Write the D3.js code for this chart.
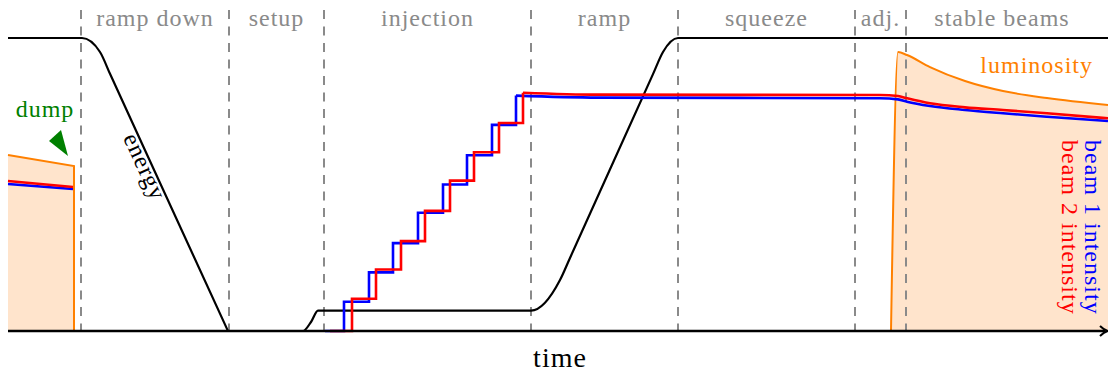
<!DOCTYPE html>
<html>
<head>
<meta charset="utf-8">
<script src="https://cdn.jsdelivr.net/npm/d3@7"></script>
<style>
  html, body { margin: 0; padding: 0; background: #fff; }
  svg { display: block; }
</style>
</head>
<body>
<svg id="chart" width="1108" height="372"></svg>
<script>
// Operating phases of one fill cycle (time in arbitrary units)
const phaseNames  = ["ramp down", "setup", "injection", "ramp", "squeeze", "adj.", "stable beams"];
const phaseStarts = [7.3, 22.1, 31.6, 52.3, 67.0, 84.7, 89.8];
const phaseEnds   = [22.1, 31.6, 52.3, 67.0, 84.7, 89.8, 109.0];

// Beam energy (TeV)
const energyTime = [0, 7.4, 9.2, 10.2, 21.9, 22.0, 29.5, 30.3, 31.0, 52.3, 55.2, 56.2, 64.5, 65.5, 67.0, 110];
const energyTeV  = [6.5, 6.5, 6.19, 5.706, 0.048, 0, 0, 0.2, 0.45, 0.45, 1.13, 1.621, 5.699, 6.19, 6.5, 6.5];

// Previous fill, until it is dumped
const prevTime     = [0, 6.5];
const prevBeam1    = [1.505, 1.454];
const prevBeam2    = [1.536, 1.474];
const prevLumiTime = [0, 6.6];
const prevLumi     = [1.321, 1.239];

// Injection: intensity after each injected train (1e14 protons)
const inj1Time = [31.7, 33.6, 36.1, 38.5, 41.0, 43.5, 45.9, 48.4, 50.8];
const inj1     = [0, 0.30, 0.60, 0.90, 1.21, 1.50, 1.80, 2.11, 2.41];
const inj2Time = [32.2, 34.4, 36.8, 39.3, 41.7, 44.2, 46.6, 49.1, 51.5];
const inj2     = [0, 0.33, 0.63, 0.92, 1.23, 1.54, 1.83, 2.13, 2.44];

// Circulating intensity from end of injection through stable beams
const circTime  = [59.0, 87.2, 89.0, 89.9, 92.2, 95.7, 99.5, 103.9, 110];
const circBeam1 = [2.39, 2.383, 2.372, 2.348, 2.304, 2.263, 2.229, 2.194, 2.150];
const circBeam2 = [2.42, 2.416, 2.406, 2.383, 2.331, 2.290, 2.263, 2.229, 2.178];

// Luminosity in stable beams (1e34 cm^-2 s^-1)
const lumiTime = [88.3, 89.0, 89.9, 92.2, 95.7, 99.5, 103.9, 110];
const lumi     = [0, 2.095, 2.072, 1.982, 1.877, 1.802, 1.749, 1.697];

const FONT = "'Liberation Serif', 'DejaVu Serif', serif";
const baseY = 331, topY = 38;

const svg = d3.select("#chart");

const x  = d3.scaleLinear().domain([0, 110]).range([8, 1108]);
const yE = d3.scaleLinear().domain([0, 6.5]).range([baseY, topY]);
const yI = d3.scaleLinear().domain([0, 3]).range([baseY, topY]);
const yL = d3.scaleLinear().domain([0, 2.2]).range([baseY, topY]);

const zip = (ts, vs) => ts.map((t, i) => [t, vs[i]]);

const ORANGE = "#ff8000", FILL = "#ffe4cc", BLUE = "#0000ff", RED = "#ff0000";
const GREEN = "#008000", GREY = "#8a8a8a";

function label(sel, size) {
  return sel.attr("font-family", FONT).attr("font-size", size).attr("letter-spacing", 1);
}

// ---- luminosity areas ----
const prevL = zip(prevLumiTime, prevLumi);
svg.append("path").datum(prevL)
  .attr("d", d3.area().x(d => x(d[0])).y0(yL(0)).y1(d => yL(d[1])))
  .attr("fill", FILL);
svg.append("path").datum(prevL.concat([[prevLumiTime[1], 0]]))
  .attr("d", d3.line().x(d => x(d[0])).y(d => yL(d[1])))
  .attr("fill", "none").attr("stroke", ORANGE).attr("stroke-width", 2);

const stableL = zip(lumiTime, lumi);
svg.append("path").datum(stableL)
  .attr("d", d3.area().x(d => x(d[0])).y0(yL(0)).y1(d => yL(d[1])).curve(d3.curveMonotoneX))
  .attr("fill", FILL);
svg.append("path").datum(stableL)
  .attr("d", d3.line().x(d => x(d[0])).y(d => yL(d[1])).curve(d3.curveMonotoneX))
  .attr("fill", "none").attr("stroke", ORANGE).attr("stroke-width", 2);

// ---- phase separators ----
svg.append("g").selectAll("line").data(phaseStarts).join("line")
  .attr("x1", d => x(d)).attr("x2", d => x(d))
  .attr("y1", 10).attr("y2", baseY)
  .attr("stroke", GREY).attr("stroke-width", 2)
  .attr("stroke-dasharray", "9,7.5");

label(svg.append("g").selectAll("text").data(phaseNames).join("text"), 24)
  .attr("x", (d, i) => (x(phaseStarts[i]) + x(phaseEnds[i])) / 2)
  .attr("y", 26)
  .attr("text-anchor", "middle")
  .attr("fill", GREY)
  .text(d => d);

// ---- energy ----
const energy = zip(energyTime, energyTeV);
svg.append("path").datum(energy)
  .attr("d", d3.line().x(d => x(d[0])).y(d => yE(d[1])).curve(d3.curveMonotoneX))
  .attr("fill", "none").attr("stroke", "#000").attr("stroke-width", 2.2);

// label laid along the ramp-down slope
{
  const a = energy[2], b = energy[5];
  const f = 0.40;
  const px = x(a[0]) + f * (x(b[0]) - x(a[0]));
  const py = yE(a[1]) + f * (yE(b[1]) - yE(a[1]));
  const ang = Math.atan2(yE(b[1]) - yE(a[1]), x(b[0]) - x(a[0])) * 180 / Math.PI;
  label(svg.append("text"), 24)
    .attr("transform", `translate(${px},${py}) rotate(${ang})`)
    .attr("text-anchor", "middle").attr("dy", 15)
    .attr("fill", "#000").text("energy");
}

// ---- beam intensities ----
const lineI = d3.line().x(d => x(d[0])).y(d => yI(d[1]));
function beam(prevVals, injT, injV, circV, color) {
  svg.append("path").datum(zip(prevTime, prevVals))
    .attr("d", lineI.curve(d3.curveLinear))
    .attr("fill", "none").attr("stroke", color).attr("stroke-width", 2.6);
  svg.append("path").datum(zip(injT, injV))
    .attr("d", lineI.curve(d3.curveStepAfter))
    .attr("fill", "none").attr("stroke", color).attr("stroke-width", 2.6);
  const last = [injT[injT.length - 1], injV[injV.length - 1]];
  svg.append("path").datum([last].concat(zip(circTime, circV)))
    .attr("d", lineI.curve(d3.curveMonotoneX))
    .attr("fill", "none").attr("stroke", color).attr("stroke-width", 2.6);
}
beam(prevBeam1, inj1Time, inj1, circBeam1, BLUE);
beam(prevBeam2, inj2Time, inj2, circBeam2, RED);

// ---- time axis ----
svg.append("line")
  .attr("x1", x(0)).attr("x2", x(110) - 3)
  .attr("y1", baseY).attr("y2", baseY)
  .attr("stroke", "#000").attr("stroke-width", 2.5);
svg.append("path")
  .attr("d", `M${x(110) - 8},${baseY - 5} Q${x(110) - 4},${baseY - 1} ${x(110)},${baseY} Q${x(110) - 4},${baseY + 1} ${x(110) - 8},${baseY + 5}`)
  .attr("fill", "none").attr("stroke", "#000").attr("stroke-width", 2);
label(svg.append("text"), 28)
  .attr("x", (x(0) + x(110)) / 2 + 2).attr("y", 367)
  .attr("text-anchor", "middle")
  .attr("fill", "#000").text("time");

// ---- dump marker ----
{
  const tx = x(6.0);
  const ty = yL(prevLumi[0] + (prevLumi[1] - prevLumi[0]) * 6.0 / 6.6) - 9;
  svg.append("path")
    .attr("d", `M${tx},${ty} L${tx - 19},${ty - 15} L${tx - 7},${ty - 26} Z`)
    .attr("fill", GREEN);
  label(svg.append("text"), 24)
    .attr("x", 45).attr("y", 117)
    .attr("text-anchor", "middle")
    .attr("fill", GREEN).text("dump");
}

// ---- series labels ----
label(svg.append("text"), 24)
  .attr("x", 1093).attr("y", 73)
  .attr("text-anchor", "end")
  .attr("fill", ORANGE).text("luminosity");

label(svg.append("text"), 24)
  .attr("transform", "translate(1085,140) rotate(90)")
  .attr("fill", BLUE).text("beam 1 intensity");
label(svg.append("text"), 24)
  .attr("transform", "translate(1062,140) rotate(90)")
  .attr("fill", RED).text("beam 2 intensity");
</script>
</body>
</html>
